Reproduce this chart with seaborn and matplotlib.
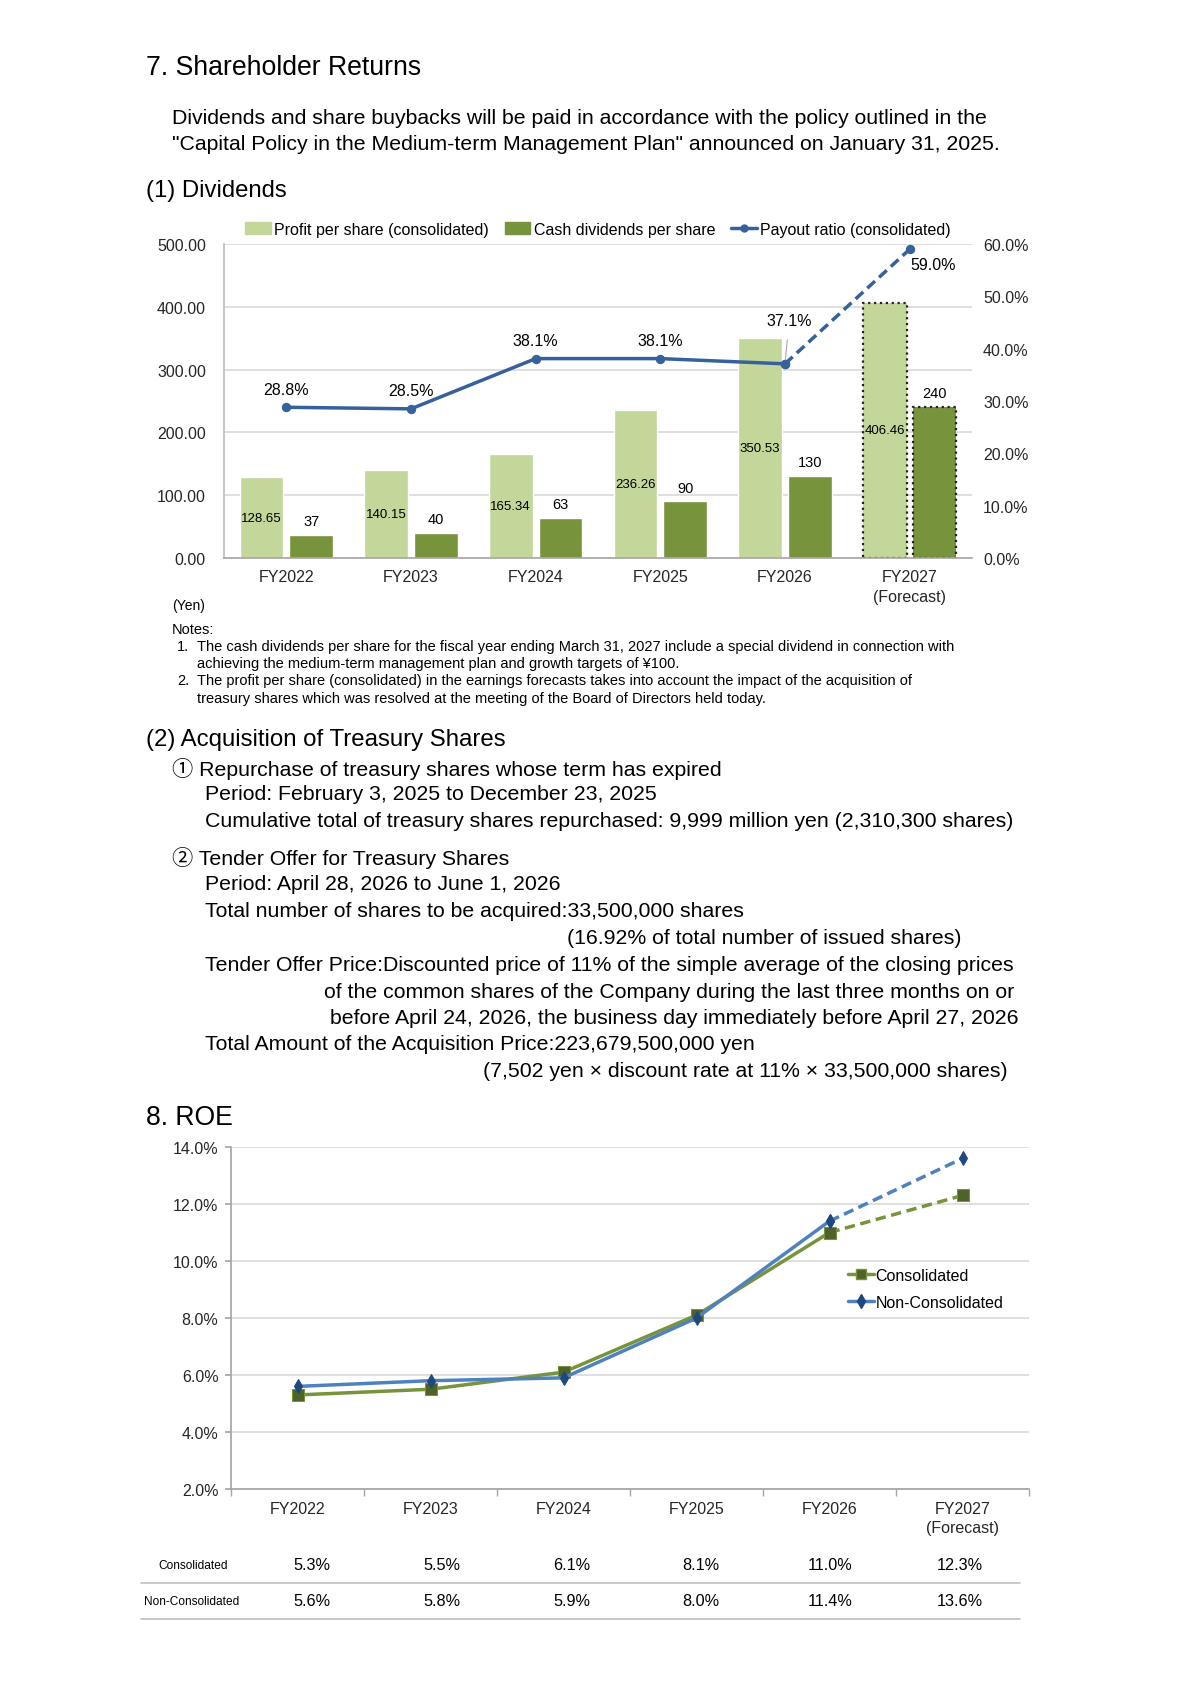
import numpy as np
import pandas as pd
import matplotlib
import matplotlib.pyplot as plt
import seaborn as sns
from matplotlib.patches import Patch
from matplotlib.lines import Line2D

# ---- data ----
years = ['FY2022', 'FY2023', 'FY2024', 'FY2025', 'FY2026', 'FY2027\n(Forecast)']
profit_per_share = [128.65, 140.15, 165.34, 236.26, 350.53, 406.46]
dividends_per_share = [37, 40, 63, 90, 130, 240]
payout_ratio = [28.8, 28.5, 38.1, 38.1, 37.1, 59.0]

roe_consolidated = [5.3, 5.5, 6.1, 8.1, 11.0, 12.3]
roe_non_consolidated = [5.6, 5.8, 5.9, 8.0, 11.4, 13.6]

LIGHT = '#C4D79B'
DARK = '#77933C'
BLUE = '#36619B'
ROE_GREEN = '#77933C'
ROE_GREEN_MK = '#4F6228'
ROE_BLUE = '#4F81BD'
ROE_BLUE_MK = '#1F497D'
GRID = '#D9D9D9'

sns.set_theme(style="white")
plt.rcParams['font.family'] = ['Liberation Sans', 'Noto Sans CJK JP', 'DejaVu Sans']
plt.rcParams['text.color'] = 'black'

W, H = 1190, 1683
fig = plt.figure(figsize=(W / 100, H / 100), dpi=100)


def box(l, t, r, b):
    return [l / W, 1 - b / H, (r - l) / W, (b - t) / H]


def txt(x, y, s, size=15.3, **kw):
    fig.text(x / W, 1 - y / H, s, fontsize=size, va='center', **kw)


BODY = 15.3

# ---- page text, section 7 ----
txt(146, 68, '7. Shareholder Returns', 19.2)
txt(172, 118, 'Dividends and share buybacks will be paid in accordance with the policy outlined in the', BODY)
txt(172, 144, '"Capital Policy in the Medium-term Management Plan" announced on January 31, 2025.', BODY)
txt(146, 191, '(1) Dividends', 17.2)

# ---- chart 1: dividends ----
ax = fig.add_axes(box(224, 245, 972, 559))
df_bars = pd.DataFrame({
    'year': years * 2,
    'value': profit_per_share + dividends_per_share,
    'kind': ['Profit per share (consolidated)'] * len(years) + ['Cash dividends per share'] * len(years),
})
sns.barplot(data=df_bars, x='year', y='value', hue='kind', palette=[LIGHT, DARK],
            width=0.8, gap=0.125, saturation=1, ax=ax, legend=False, zorder=2)

for k, cont in enumerate(ax.containers):
    last = cont.patches[-1]
    last.set_edgecolor('#222222')
    last.set_linestyle(':')
    last.set_linewidth(1.6)
    if k == 0:
        ax.bar_label(cont, labels=[f'{v:.2f}' for v in profit_per_share],
                     label_type='center', fontsize=9.5)
    else:
        ax.bar_label(cont, labels=[f'{v:d}' for v in dividends_per_share],
                     padding=5, fontsize=10.5)

ax.set_ylim(0, 500)
ax.set_xlim(-0.5, len(years) - 0.5)
ax.set_yticks(np.arange(0, 501, 100))
ax.set_yticklabels([f'{v:.2f}' for v in np.arange(0, 501, 100)])
for lab in ax.get_xticklabels():
    lab.set_linespacing(1.4)
ax.yaxis.grid(True, color=GRID, lw=1.2, zorder=0)
ax.set_axisbelow(True)
ax.set_xlabel('')
ax.set_ylabel('')
ax.tick_params(axis='y', length=0, pad=13, labelsize=11.5)
ax.tick_params(axis='x', length=0, pad=8, labelsize=11.5)
for s in ['top', 'right']:
    ax.spines[s].set_visible(False)
ax.spines['left'].set_color('#BFBFBF')
ax.spines['bottom'].set_color('#A6A6A6')
ax.spines['bottom'].set_linewidth(1.2)

ax2 = ax.twinx()
idx = np.arange(len(years))
sns.lineplot(x=idx[:5], y=payout_ratio[:5], ax=ax2, color=BLUE, lw=2.5,
             marker='o', markersize=6, markeredgecolor=BLUE)
sns.lineplot(x=idx[4:], y=payout_ratio[4:], ax=ax2, color=BLUE, lw=2.5,
             linestyle=(0, (3, 1.6)), marker='o', markersize=6, markeredgecolor=BLUE)
ax2.set_ylim(0, 60)
ax2.set_xlim(-0.5, len(years) - 0.5)
ax2.set_yticks(np.arange(0, 61, 10))
ax2.set_yticklabels([f'{v:.1f}%' for v in np.arange(0, 61, 10)])
ax2.tick_params(axis='y', length=0, pad=8, labelsize=11.5)
for s in ax2.spines.values():
    s.set_visible(False)
ax2.set_ylabel('')
for i, v in enumerate(payout_ratio):
    if i == 4:
        ax2.annotate(f'{v:.1f}%', (i, v), xytext=(3, 31), textcoords='offset points',
                     ha='center', va='center', fontsize=11.5,
                     arrowprops=dict(arrowstyle='-', color='#A6A6A6', lw=0.8,
                                     shrinkA=6, shrinkB=3))
    elif i == 5:
        ax2.annotate(f'{v:.1f}%', (i, v), xytext=(17, -11), textcoords='offset points',
                     ha='center', va='center', fontsize=11.5)
    else:
        ax2.annotate(f'{v:.1f}%', (i, v), xytext=(0, 13), textcoords='offset points',
                     ha='center', va='center', fontsize=11.5)

handles = [Patch(color=LIGHT, label='Profit per share (consolidated)'),
           Patch(color=DARK, label='Cash dividends per share'),
           Line2D([], [], color=BLUE, lw=2.5, marker='o', markersize=5,
                  label='Payout ratio (consolidated)')]
fig.legend(handles=handles, loc='center', bbox_to_anchor=(598 / W, 1 - 230 / H), ncol=3,
           frameon=False, fontsize=11.5, handlelength=1.6, handleheight=0.7,
           columnspacing=1.0, handletextpad=0.2)

txt(172, 606, '(Yen)', 10)

# ---- notes ----
NOTE = 10.5
txt(172, 630, 'Notes:', NOTE)
txt(177, 647, '1.', NOTE)
txt(197, 647, 'The cash dividends per share for the fiscal year ending March 31, 2027 include a special dividend in connection with', NOTE)
txt(197, 664, 'achieving the medium-term management plan and growth targets of ¥100.', NOTE)
txt(177, 681, '2.', NOTE)
txt(197, 681, 'The profit per share (consolidated) in the earnings forecasts takes into account the impact of the acquisition of', NOTE)
txt(197, 699, 'treasury shares which was resolved at the meeting of the Board of Directors held today.', NOTE)

# ---- section (2) ----
txt(146, 740, '(2) Acquisition of Treasury Shares', 17.3)
txt(172, 769, '① Repurchase of treasury shares whose term has expired', BODY)
txt(205, 795, 'Period: February 3, 2025 to December 23, 2025', BODY)
txt(205, 822, 'Cumulative total of treasury shares repurchased: 9,999 million yen (2,310,300 shares)', BODY)
txt(172, 858, '② Tender Offer for Treasury Shares', BODY)
txt(205, 885, 'Period: April 28, 2026 to June 1, 2026', BODY)
txt(205, 912, 'Total number of shares to be acquired:33,500,000 shares', BODY)
txt(567, 939, '(16.92% of total number of issued shares)', BODY)
txt(205, 966, 'Tender Offer Price:Discounted price of 11% of the simple average of the closing prices', BODY)
txt(324, 993, 'of the common shares of the Company during the last three months on or', BODY)
txt(330, 1019, 'before April 24, 2026, the business day immediately before April 27, 2026', BODY)
txt(205, 1045, 'Total Amount of the Acquisition Price:223,679,500,000 yen', BODY)
txt(483, 1072, '(7,502 yen × discount rate at 11% × 33,500,000 shares)', BODY)

txt(146, 1118, '8. ROE', 19.2)

# ---- chart 2: ROE ----
ax3 = fig.add_axes(box(231, 1148, 1029, 1490))
sns.lineplot(x=idx[:5], y=roe_consolidated[:5], ax=ax3, color=ROE_GREEN, lw=2.5,
             marker='s', markersize=8, markerfacecolor=ROE_GREEN_MK, markeredgecolor=ROE_GREEN)
sns.lineplot(x=idx[4:], y=roe_consolidated[4:], ax=ax3, color=ROE_GREEN, lw=2.5,
             linestyle=(0, (3, 1.6)), marker='s', markersize=8,
             markerfacecolor=ROE_GREEN_MK, markeredgecolor=ROE_GREEN)
sns.lineplot(x=idx[:5], y=roe_non_consolidated[:5], ax=ax3, color=ROE_BLUE, lw=2.5,
             marker='d', markersize=7, markerfacecolor=ROE_BLUE_MK, markeredgecolor=ROE_BLUE_MK)
sns.lineplot(x=idx[4:], y=roe_non_consolidated[4:], ax=ax3, color=ROE_BLUE, lw=2.5,
             linestyle=(0, (3, 1.6)), marker='d', markersize=7,
             markerfacecolor=ROE_BLUE_MK, markeredgecolor=ROE_BLUE_MK)
ax3.set_xlim(-0.5, len(years) - 0.5)
ax3.set_ylim(2, 14)
ax3.set_yticks(np.arange(2, 15, 2))
ax3.set_yticklabels([f'{v:.1f}%' for v in np.arange(2, 15, 2)])
ax3.yaxis.grid(True, color=GRID, lw=1.2)
ax3.set_axisbelow(True)
ax3.set_xticks(idx)
ax3.set_xticklabels(years)
for lab in ax3.get_xticklabels():
    lab.set_linespacing(1.3)
ax3.set_xticks(np.arange(-0.5, len(years)), minor=True)
ax3.tick_params(axis='x', which='major', length=0, pad=9, labelsize=11.5)
ax3.tick_params(axis='x', which='minor', length=5, color='#A6A6A6', bottom=True)
ax3.tick_params(axis='y', length=4, color='#A6A6A6', left=True, pad=5, labelsize=11.5)
for s in ['top', 'right']:
    ax3.spines[s].set_visible(False)
ax3.spines['left'].set_color('#A6A6A6')
ax3.spines['bottom'].set_color('#A6A6A6')
ax3.set_xlabel('')
ax3.set_ylabel('')

roe_handles = [Line2D([], [], color=ROE_GREEN, lw=2.5, marker='s', markersize=7,
                      markerfacecolor=ROE_GREEN_MK, markeredgecolor=ROE_GREEN, label='Consolidated'),
               Line2D([], [], color=ROE_BLUE, lw=2.5, marker='d', markersize=7,
                      markerfacecolor=ROE_BLUE_MK, markeredgecolor=ROE_BLUE_MK, label='Non-Consolidated')]
ax3.legend(handles=roe_handles, loc='center left',
           bbox_to_anchor=((834 - 231) / 798, 1 - (1290 - 1148) / 342),
           frameon=False, fontsize=11.5, handlelength=1.6, handletextpad=0.1, labelspacing=0.75)

# ---- ROE table ----
col_x = [312, 442, 572, 701, 830, 960]
for row_y, label, vals in [(1566, 'Consolidated', roe_consolidated),
                           (1602, 'Non-Consolidated', roe_non_consolidated)]:
    txt(158 if label == 'Consolidated' else 144, row_y, label, 8.6)
    for cx, v in zip(col_x, vals):
        txt(cx, row_y, f'{v:.1f}%', 11.7, ha='center')
for ly in [1584, 1620]:
    fig.add_artist(Line2D([141 / W, 1020 / W], [1 - ly / H, 1 - ly / H], color='#BFBFBF', lw=1.2))

fig.savefig('out.png', dpi=100)
